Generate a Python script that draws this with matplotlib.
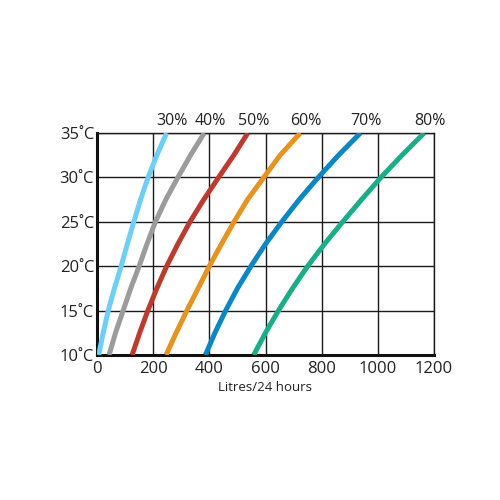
import matplotlib
matplotlib.use("Agg")
import matplotlib.pyplot as plt

plt.rcParams["font.family"] = ["Open Sans", "DejaVu Sans"]

# temperature levels (°C) and litres/24h
temps = [10, 12.5, 15, 17.5, 20, 22.5, 25, 27.5, 30, 32.5, 35]
humidity = ["30%", "40%", "50%", "60%", "70%", "80%"]
litres_30 = [6, 22, 40, 62, 86, 108, 131, 155, 182, 213, 248]
litres_40 = [43, 66, 93, 120, 150, 178, 208, 245, 288, 333, 382]
litres_50 = [125, 152, 181, 213, 248, 288, 331, 380, 433, 487, 537]
litres_60 = [246, 282, 320, 360, 400, 443, 488, 536, 594, 652, 724]
litres_70 = [386, 420, 458, 500, 548, 600, 658, 720, 788, 860, 938]
litres_80 = [558, 600, 646, 696, 750, 810, 875, 942, 1011, 1086, 1165]
series = [litres_30, litres_40, litres_50, litres_60, litres_70, litres_80]
colors = ["#6dcff6", "#9b9b9b", "#bd3a2e", "#e6931f", "#0b87c5", "#1aae88"]

xticks = [0, 200, 400, 600, 800, 1000, 1200]
yticks = [10, 15, 20, 25, 30, 35]
ytick_labels = [f"{t}\u02daC" for t in yticks]

fig = plt.figure(figsize=(5, 5), dpi=100)
ax = fig.add_axes([0.194, 0.29, 0.674, 0.444])

for vals, col, lab in zip(series, colors, humidity):
    ax.plot(vals, temps, color=col, lw=3.6, solid_capstyle="butt",
            solid_joinstyle="round", zorder=3)
    ax.annotate(lab, xy=(vals[-1], temps[-1]), xytext=(4, 3),
                textcoords="offset points", ha="center", va="bottom",
                fontsize=11.5, color="#222222")

ax.set_xlim(0, 1200)
ax.set_ylim(10, 35)
ax.set_xticks(xticks)
ax.set_yticks(yticks)
ax.set_yticklabels(ytick_labels)
ax.tick_params(length=0, labelsize=12, colors="#222222")
ax.tick_params(axis="x", pad=4)
ax.tick_params(axis="y", pad=2)
ax.grid(True, color="#1a1a1a", lw=1.0, zorder=1)

for side in ["top", "right"]:
    ax.spines[side].set_linewidth(1.0)
    ax.spines[side].set_color("#1a1a1a")
for side in ["left", "bottom"]:
    ax.spines[side].set_linewidth(2.2)
    ax.spines[side].set_color("#111111")

ax.set_xlabel("Litres/24 hours", fontsize=9.5, color="#222222", labelpad=3)

fig.savefig("out.png", dpi=100)
